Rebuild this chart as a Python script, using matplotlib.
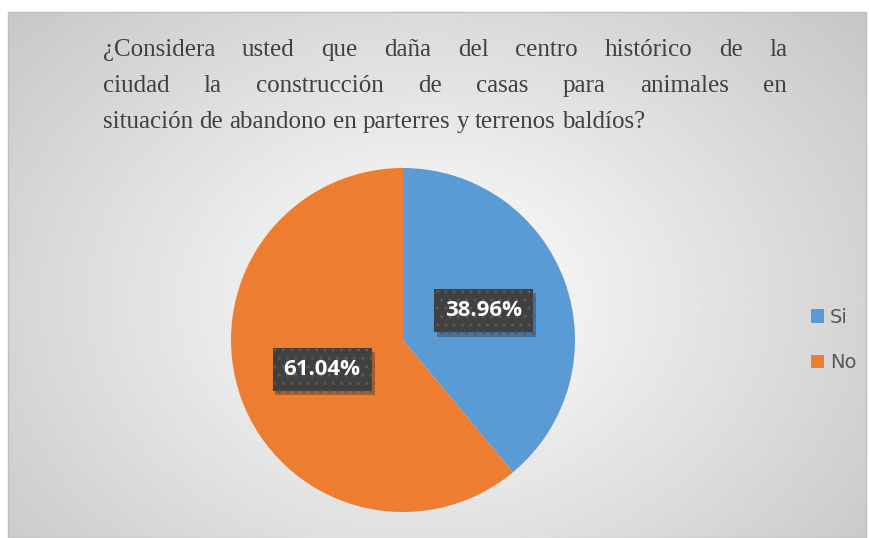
import numpy as np
import matplotlib

matplotlib.use("Agg")

import matplotlib.pyplot as plt
import matplotlib.patheffects as pe
from matplotlib.patches import Rectangle

# data
categories = ["Si", "No"]
values = [38.96, 61.04]
colors = ["#5B9BD5", "#ED7D31"]
title_lines = [
    "¿Considera usted que daña del centro histórico de la",
    "ciudad la construcción de casas para animales en",
    "situación de abandono en parterres y terrenos baldíos?",
]

plt.rcParams["font.serif"] = ["Liberation Serif", "DejaVu Serif"]
plt.rcParams["hatch.linewidth"] = 1.0

W, H = 869, 538
fig = plt.figure(figsize=(W / 100, H / 100), dpi=100)
fig.patch.set_facecolor("white")

# chart area with radial gradient background
x0, y0, x1, y1 = 8, 12, 866, 538
bg = fig.add_axes([x0 / W, 1 - y1 / H, (x1 - x0) / W, (y1 - y0) / H])
yy, xx = np.mgrid[0:1:300j, 0:1:480j]
dist = np.sqrt(((xx - 0.49) / 0.75) ** 2 + ((yy - 0.55) / 0.95) ** 2)
shade = np.clip(1.0 - 0.25 * dist, 0.76, 1.0)
bg.imshow(shade, cmap="gray", vmin=0, vmax=1, aspect="auto",
          extent=[0, 1, 0, 1], interpolation="bilinear")
bg.set_axis_off()
fig.patches.append(Rectangle((x0 / W, 1 - y1 / H), (x1 - x0) / W, (y1 - y0) / H,
                             transform=fig.transFigure, fill=False,
                             edgecolor="#bfbfbf", linewidth=1.0))

# justified title
renderer = fig.canvas.get_renderer()
left, right = 103, 787
line_y = [50, 86, 122]
tkw = dict(fontsize=18, family="serif", color="#404040", va="center")
for i, line in enumerate(title_lines):
    words = line.split(" ")
    texts = [fig.text(0, 0, w, **tkw) for w in words]
    widths = [t.get_window_extent(renderer).width for t in texts]
    if i < len(title_lines) - 1:
        gap = (right - left - sum(widths)) / (len(words) - 1)
    else:
        probe = fig.text(0, 0, "a a", **tkw)
        probe2 = fig.text(0, 0, "aa", **tkw)
        gap = (probe.get_window_extent(renderer).width
               - probe2.get_window_extent(renderer).width)
        probe.remove()
        probe2.remove()
    x = left
    for t, w in zip(texts, widths):
        t.set_position((x / W, 1 - line_y[i] / H))
        x += w + gap

# pie
cx, cy, r = 403, 340, 172
ax = fig.add_axes([(cx - r) / W, 1 - (cy + r) / H, 2 * r / W, 2 * r / H])
wedges, _, autotexts = ax.pie(
    values, colors=colors, startangle=90, counterclock=False,
    autopct="%.2f%%", pctdistance=0.5, radius=1.0,
    wedgeprops=dict(linewidth=0),
    textprops=dict(color="white", fontsize=16, fontweight="bold",
                   family="Open Sans"),
)
for t in autotexts:
    t.set_bbox(dict(boxstyle="square,pad=0.5", facecolor="#404040",
                    edgecolor="#585858", linewidth=0, hatch=".."))
    t.get_bbox_patch().set_path_effects(
        [pe.SimplePatchShadow(offset=(2, -3), alpha=0.3), pe.Normal()])
    t.set_zorder(5)
ax.set_xlim(-1, 1)
ax.set_ylim(-1, 1)
ax.set_axis_off()

# legend
leg = fig.legend(wedges, categories, loc="center left",
                 bbox_to_anchor=(793 / W, 1 - 340 / H), frameon=False,
                 fontsize=14, labelspacing=1.35, handlelength=0.7,
                 handleheight=0.7, handletextpad=0.3)
for t in leg.get_texts():
    t.set_color("#595959")

fig.savefig("out.png", dpi=100)
